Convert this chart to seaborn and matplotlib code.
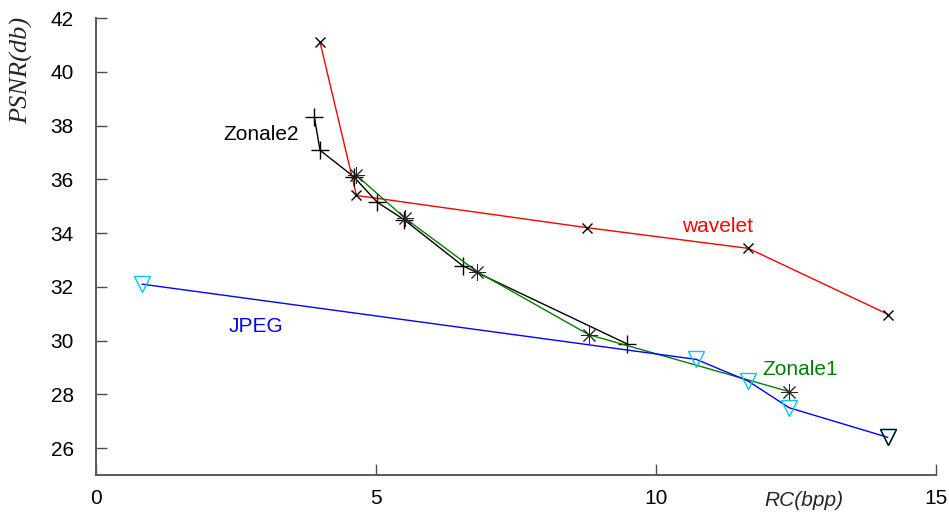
import matplotlib
matplotlib.use("Agg")
import matplotlib.pyplot as plt
import seaborn as sns
import pandas as pd

# rate (bpp) vs PSNR (db) for each coder
wavelet_rc = [4.0, 4.65, 8.77, 11.65, 14.15]
wavelet_psnr = [41.1, 35.4, 34.2, 33.43, 30.97]

zonale2_rc = [3.9, 4.0, 4.6, 5.02, 5.5, 6.55, 9.48]
zonale2_psnr = [38.3, 37.08, 36.1, 35.15, 34.5, 32.78, 29.88]

zonale1_rc = [4.65, 5.52, 6.8, 8.8, 12.38]
zonale1_psnr = [36.15, 34.55, 32.57, 30.22, 28.1]

jpeg_rc = [0.82, 10.72, 11.64, 12.38, 14.14]
jpeg_psnr = [32.1, 29.3, 28.5, 27.5, 26.4]

x_ticks = [0, 5, 10, 15]
y_ticks = [26, 28, 30, 32, 34, 36, 38, 40, 42]


def draw_series(ax, rc, psnr, color, marker, size, edge, mew=1.0, **kw):
    df = pd.DataFrame({"rc": rc, "psnr": psnr})
    sns.lineplot(data=df, x="rc", y="psnr", ax=ax, sort=False, estimator=None,
                 color=color, lw=1.0, marker=marker, markersize=size,
                 markeredgecolor=edge, markeredgewidth=mew, **kw)


def main():
    sns.set_style("ticks")
    plt.rcParams["font.family"] = ["Liberation Sans", "DejaVu Sans"]

    fig = plt.figure(figsize=(9.49, 5.15), dpi=100)
    ax = fig.add_axes([0.1012, 0.0777, 0.8851, 0.8873])

    draw_series(ax, wavelet_rc, wavelet_psnr, "red", "x", 7, "black")
    draw_series(ax, zonale2_rc, zonale2_psnr, "black", "+", 13, "black")
    # asterisk markers (8 arms)
    draw_series(ax, zonale1_rc, zonale1_psnr, "green", (8, 2, 0), 12, "0.15", mew=0.7)
    draw_series(ax, jpeg_rc, jpeg_psnr, "blue", "v", 12, "#00c8ff",
                markerfacecolor="none")
    # last JPEG point drawn with a black marker
    ax.plot(jpeg_rc[-1:], jpeg_psnr[-1:], ls="none", marker="v", ms=12,
            mfc="none", mec="black", mew=1.0)

    ax.text(3.63, 37.67, "Zonale2", color="black", fontsize=15, ha="right", va="center")
    ax.text(11.1, 34.24, "wavelet", color="red", fontsize=15, ha="center", va="center")
    ax.text(2.86, 30.51, "JPEG", color="blue", fontsize=15, ha="center", va="center")
    ax.text(12.57, 28.94, "Zonale1", color="green", fontsize=15, ha="center", va="center")

    ax.set_xlim(0, 15)
    ax.set_ylim(25, 42)
    ax.set_xticks(x_ticks)
    ax.set_yticks(y_ticks)
    ax.set_xlabel("")
    ax.set_ylabel("")
    ax.tick_params(direction="in", length=8, width=1, color="0.3",
                   labelsize=15, labelcolor="black")
    ax.tick_params(axis="y", pad=16)
    ax.tick_params(axis="x", pad=10)
    sns.despine(ax=ax)
    for side in ["left", "bottom"]:
        ax.spines[side].set_color("0.35")
        ax.spines[side].set_linewidth(1.4)

    fig.text(0.023, 0.864, "PSNR(db)", rotation=90, ha="center", va="center",
             fontsize=19, style="italic", family=["Liberation Serif", "DejaVu Serif"])
    fig.text(0.847, 0.029, "RC(bpp)", ha="center", va="center",
             fontsize=15, style="italic")

    fig.savefig("out.png", dpi=100, facecolor="white")


if __name__ == "__main__":
    main()
